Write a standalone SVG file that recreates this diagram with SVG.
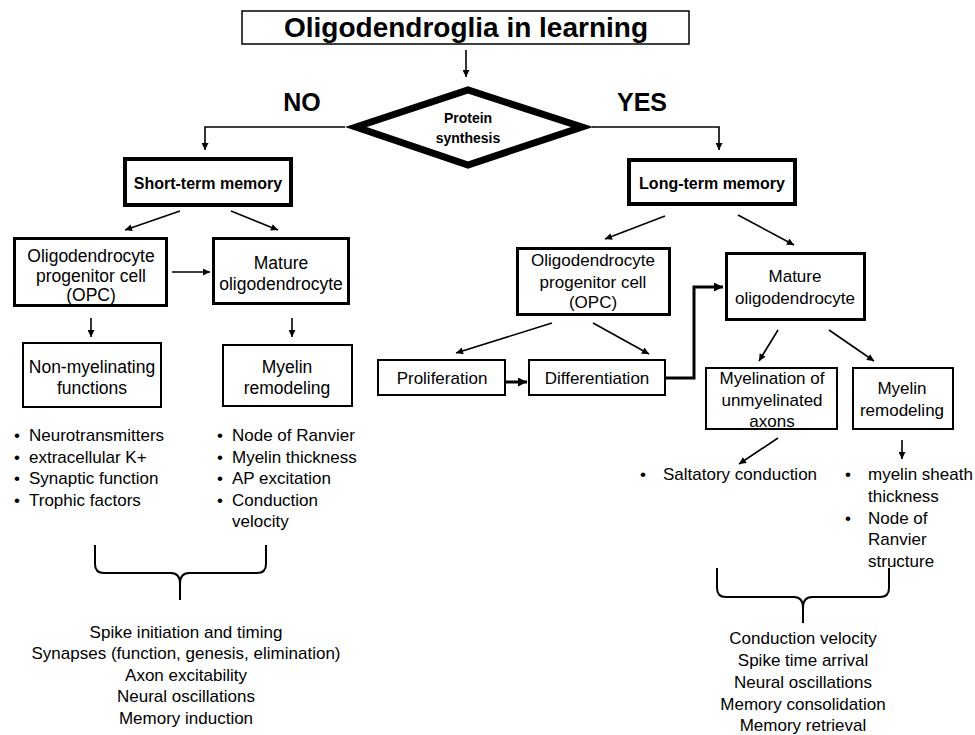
<svg xmlns="http://www.w3.org/2000/svg" width="975" height="735" viewBox="0 0 975 735">
<style>
  text { font-family: "Liberation Sans", Arial, sans-serif; fill: #000; }
  .t { font-size: 17px; }
  .tl { font-size: 17.5px; }
  .c { text-anchor: middle; }
  .b { font-weight: bold; }
  .box { fill: #fff; stroke: #000; }
  .ln { fill: none; stroke: #000; stroke-width: 1.6; }
  .thk { fill: none; stroke: #000; stroke-width: 3; }
  .br { fill: none; stroke: #000; stroke-width: 2; }
</style>
<defs>
  <marker id="ah" viewBox="0 0 8 8" refX="8" refY="4" markerWidth="8" markerHeight="7" markerUnits="userSpaceOnUse" orient="auto">
    <path d="M0,0 L8,4 L0,8 z" fill="#000"/>
  </marker>
  <marker id="ahb" viewBox="0 0 8 8" refX="8" refY="4" markerWidth="9" markerHeight="9" markerUnits="userSpaceOnUse" orient="auto">
    <path d="M0,0 L8,4 L0,8 z" fill="#000"/>
  </marker>
</defs>
<rect width="975" height="735" fill="#fff"/>

<g id="title">
  <rect class="box" x="242" y="11" width="447" height="33" stroke-width="1.5"/>
  <text class="c b" x="466" y="37" font-size="28">Oligodendroglia in learning</text>
</g>

<g id="protein-synthesis">
  <polygon points="356,127 468,90 582,127 468,165" fill="#fff" stroke="#000" stroke-width="7"/>
  <text class="c b" x="468" y="123" font-size="14">Protein</text>
  <text class="c b" x="468" y="143" font-size="14">synthesis</text>
</g>

<g id="labels">
  <text class="c b" x="302" y="111" font-size="25">NO</text>
  <text class="c b" x="642" y="111" font-size="25">YES</text>
</g>

<g id="short-term">
  <rect class="box" x="125" y="159" width="166" height="46" stroke-width="4"/>
  <text class="c b" x="208" y="189" font-size="16">Short-term memory</text>
</g>
<g id="long-term">
  <rect class="box" x="629" y="160" width="166" height="44" stroke-width="4"/>
  <text class="c b" x="712" y="189" font-size="16">Long-term memory</text>
</g>

<g id="opc-left">
  <rect class="box" x="14.5" y="238.5" width="152" height="67" stroke-width="3"/>
  <text class="c tl" x="91" y="262">Oligodendrocyte</text>
  <text class="c tl" x="91" y="282">progenitor cell</text>
  <text class="c tl" x="91" y="301">(OPC)</text>
</g>
<g id="mature-left">
  <rect class="box" x="213.5" y="238.5" width="135" height="65" stroke-width="3"/>
  <text class="c tl" x="281" y="269">Mature</text>
  <text class="c tl" x="281" y="290">oligodendrocyte</text>
</g>
<g id="nonmyelinating">
  <rect class="box" x="23" y="343" width="138" height="64" stroke-width="2"/>
  <text class="c tl" x="92" y="373">Non-myelinating</text>
  <text class="c tl" x="92" y="394">functions</text>
</g>
<g id="remodeling-left">
  <rect class="box" x="223" y="345" width="129" height="61" stroke-width="2"/>
  <text class="c tl" x="287" y="373">Myelin</text>
  <text class="c tl" x="287" y="394">remodeling</text>
</g>

<g id="list-left-1">
  <text class="t c" x="17" y="441">•</text><text class="t" x="29" y="441">Neurotransmitters</text>
  <text class="t c" x="17" y="463">•</text><text class="t" x="29" y="463">extracellular K+</text>
  <text class="t c" x="17" y="484">•</text><text class="t" x="29" y="484">Synaptic function</text>
  <text class="t c" x="17" y="506">•</text><text class="t" x="29" y="506">Trophic factors</text>
</g>
<g id="list-left-2">
  <text class="t c" x="220" y="441">•</text><text class="t" x="232" y="441">Node of Ranvier</text>
  <text class="t c" x="220" y="463">•</text><text class="t" x="232" y="463">Myelin thickness</text>
  <text class="t c" x="220" y="484">•</text><text class="t" x="232" y="484">AP excitation</text>
  <text class="t c" x="220" y="506">•</text><text class="t" x="232" y="506">Conduction</text>
  <text class="t" x="232" y="527">velocity</text>
</g>
<g id="outcome-left">
  <text class="t c" x="186" y="638">Spike initiation and timing</text>
  <text class="t c" x="186" y="659">Synapses (function, genesis, elimination)</text>
  <text class="t c" x="186" y="681">Axon excitability</text>
  <text class="t c" x="186" y="702">Neural oscillations</text>
  <text class="t c" x="186" y="724">Memory induction</text>
</g>

<g id="opc-right">
  <rect class="box" x="517.5" y="248.5" width="152" height="66" stroke-width="3"/>
  <text class="c t" x="593" y="266">Oligodendrocyte</text>
  <text class="c t" x="593" y="288">progenitor cell</text>
  <text class="c t" x="593" y="308">(OPC)</text>
</g>
<g id="mature-right">
  <rect class="box" x="726.5" y="253.5" width="138" height="66" stroke-width="3"/>
  <text class="c t" x="795" y="282">Mature</text>
  <text class="c t" x="795" y="304">oligodendrocyte</text>
</g>
<g id="proliferation">
  <rect class="box" x="378" y="360" width="127" height="35" stroke-width="2"/>
  <text class="c t" x="442" y="384">Proliferation</text>
</g>
<g id="differentiation">
  <rect class="box" x="529" y="360" width="136" height="35" stroke-width="2"/>
  <text class="c t" x="597" y="384">Differentiation</text>
</g>
<g id="myelination">
  <rect class="box" x="706" y="368" width="131" height="61" stroke-width="2"/>
  <text class="c t" x="772" y="384">Myelination of</text>
  <text class="c t" x="772" y="406">unmyelinated</text>
  <text class="c t" x="772" y="427">axons</text>
</g>
<g id="remodeling-right">
  <rect class="box" x="853" y="368" width="100" height="61" stroke-width="2"/>
  <text class="c t" x="902" y="394">Myelin</text>
  <text class="c t" x="902" y="416">remodeling</text>
</g>

<g id="list-right-1">
  <text class="t c" x="643" y="480">•</text><text class="t" x="663" y="480">Saltatory conduction</text>
</g>
<g id="list-right-2">
  <text class="t c" x="848" y="480">•</text><text class="t" x="868" y="480">myelin sheath</text>
  <text class="t" x="868" y="502">thickness</text>
  <text class="t c" x="848" y="524">•</text><text class="t" x="868" y="524">Node of</text>
  <text class="t" x="868" y="545">Ranvier</text>
  <text class="t" x="868" y="567">structure</text>
</g>
<g id="outcome-right">
  <text class="t c" x="803" y="644">Conduction velocity</text>
  <text class="t c" x="803" y="666">Spike time arrival</text>
  <text class="t c" x="803" y="688">Neural oscillations</text>
  <text class="t c" x="803" y="710">Memory consolidation</text>
  <text class="t c" x="803" y="731">Memory retrieval</text>
</g>

<g id="connectors">
  <line class="ln" x1="466" y1="50" x2="466" y2="77" marker-end="url(#ah)"/>
  <polyline class="ln" points="345,127 205,127 205,150" marker-end="url(#ah)"/>
  <polyline class="ln" points="592,127 719,127 719,150" marker-end="url(#ah)"/>
  <line class="ln" x1="180" y1="211" x2="125" y2="230" marker-end="url(#ah)"/>
  <line class="ln" x1="231" y1="211" x2="278" y2="230" marker-end="url(#ah)"/>
  <line class="ln" x1="172" y1="272" x2="210" y2="272" marker-end="url(#ah)"/>
  <line class="ln" x1="91" y1="318" x2="91" y2="337" marker-end="url(#ah)"/>
  <line class="ln" x1="292" y1="318" x2="292" y2="337" marker-end="url(#ah)"/>
  <line class="ln" x1="665" y1="216" x2="605" y2="239" marker-end="url(#ah)"/>
  <line class="ln" x1="738" y1="215" x2="794" y2="245" marker-end="url(#ah)"/>
  <line class="ln" x1="552" y1="323" x2="456" y2="353" marker-end="url(#ah)"/>
  <line class="ln" x1="593" y1="323" x2="649" y2="354" marker-end="url(#ah)"/>
  <line class="thk" x1="506" y1="382" x2="527" y2="382" marker-end="url(#ahb)"/>
  <polyline class="thk" points="666,378 694,378 694,287 723,287" marker-end="url(#ahb)"/>
  <line class="ln" x1="778" y1="330" x2="759" y2="361" marker-end="url(#ah)"/>
  <line class="ln" x1="829" y1="330" x2="874" y2="361" marker-end="url(#ah)"/>
  <line class="ln" x1="778" y1="438" x2="739" y2="464" marker-end="url(#ah)"/>
  <line class="ln" x1="902" y1="440" x2="902" y2="459" marker-end="url(#ah)"/>
  <path class="br" d="M95,545 V564 Q95,573 104,573 H171 Q180,573 180,584 V600 M266,545 V564 Q266,573 257,573 H189 Q180,573 180,584"/>
  <path class="br" d="M717,568 V588 Q717,597 726,597 H794 Q803,597 803,608 V623 M889,568 V588 Q889,597 880,597 H812 Q803,597 803,608"/>
</g>
</svg>
